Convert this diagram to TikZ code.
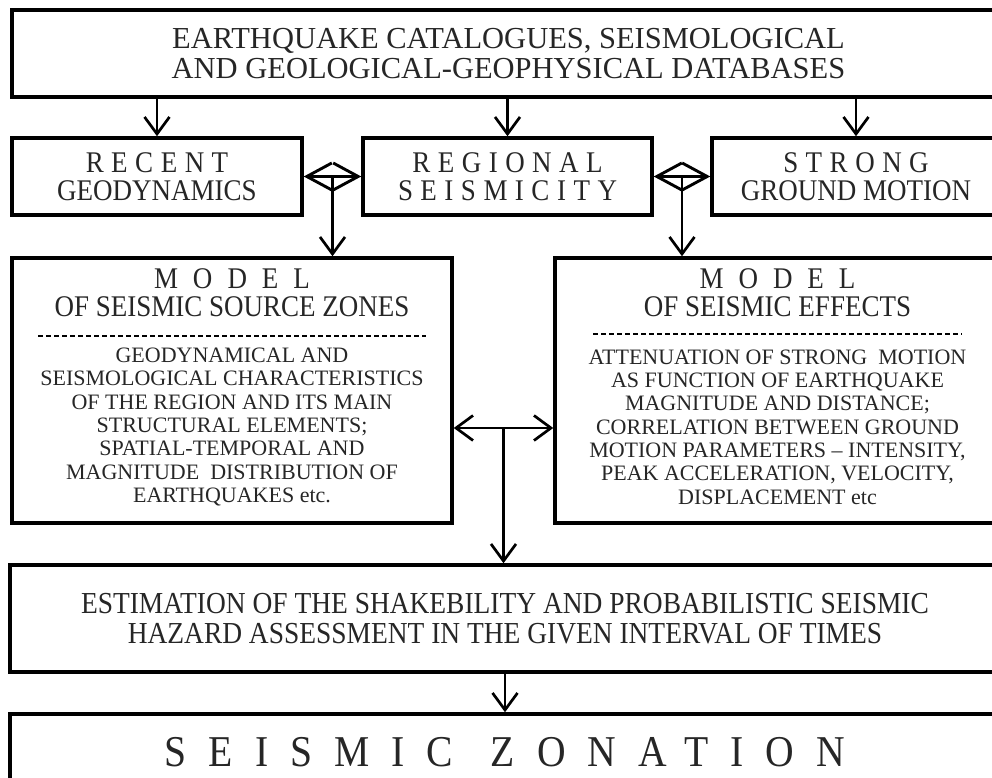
\documentclass[tikz,border=0pt]{standalone}
\usepackage{fontspec}
\setmainfont{Liberation Serif}
\newfontfamily\narrowfont{Liberation Serif}[FakeStretch=0.9]
\usetikzlibrary{positioning, arrows.meta, calc}
\newcommand{\spaced}[2]{{\addfontfeatures{LetterSpace=#1}#2}}

\begin{document}
\begin{tikzpicture}[
    x=1pt, y=1pt,
    every node/.style={text=black!85},
    box/.style={draw=black, line width=3.5pt, rectangle, inner sep=0pt, align=center},
    cattext/.style={font=\fontsize{30.5}{30}\selectfont},
    rowtext/.style={font=\narrowfont\fontsize{30}{28}\selectfont},
    titletext/.style={align=center, inner sep=0pt, font=\narrowfont\fontsize{30}{28}\selectfont},
    bodytext/.style={align=center, inner sep=0pt, font=\fontsize{22}{23.3}\selectfont},
    esttext/.style={font=\narrowfont\fontsize{30.5}{30}\selectfont},
    zontext/.style={font=\narrowfont\fontsize{44}{44}\selectfont},
    sep/.style={line width=1.6pt, dash pattern=on 5pt off 3pt},
    downarrow/.style={line width=2.7pt, -{Straight Barb[length=17pt, width=25pt]}},
    lensarrow/.style={line width=2.9pt, {Straight Barb[length=25pt, width=27pt]}-{Straight Barb[length=25pt, width=27pt]}}
]
    \useasboundingbox (0,0) rectangle (992,778);
    \clip (0,0) rectangle (992,778);

    % data sources
    \node[box, cattext, minimum width=993pt, minimum height=87pt] (cat) at (508.5,724.5)
        {EARTHQUAKE CATALOGUES, SEISMOLOGICAL\\AND GEOLOGICAL-GEOPHYSICAL DATABASES};

    \node[box, rowtext, minimum width=290pt, minimum height=77pt] (rec) at (157,601.5)
        {\spaced{25}{RECENT}\\GEODYNAMICS};
    \node[box, rowtext, minimum width=289pt, minimum height=77pt] (reg) at (507.5,601.5)
        {\spaced{25}{REGIONAL}\\\spaced{25}{SEISMICITY}};
    \node[box, rowtext, minimum width=288pt, minimum height=77pt] (str) at (856,601.5)
        {\spaced{25}{STRONG}\\GROUND MOTION};

    % models
    \node[box, minimum width=440pt, minimum height=265pt] (src) at (232,387.5) {};
    \node[titletext] (srctitle) at ([yshift=-36pt]src.north)
        {\spaced{50}{MODEL}\\OF SEISMIC SOURCE ZONES};
    \node[bodytext] (srcbody) at ([yshift=-36.5pt]src.center)
        {GEODYNAMICAL AND\\SEISMOLOGICAL CHARACTERISTICS\\OF THE REGION AND ITS MAIN\\STRUCTURAL ELEMENTS;\\SPATIAL-TEMPORAL AND\\MAGNITUDE\ \ DISTRIBUTION OF\\EARTHQUAKES etc.};
    \draw[sep] ($(src.north west)+(28pt,-80pt)$) -- ($(src.north east)+(-28pt,-80pt)$);

    \node[box, minimum width=445pt, minimum height=265pt] (eff) at (777.5,387.5) {};
    \node[titletext] (efftitle) at ([yshift=-36pt]eff.north)
        {\spaced{50}{MODEL}\\OF SEISMIC EFFECTS};
    \node[bodytext] (effbody) at ([yshift=-36.5pt]eff.center)
        {ATTENUATION OF STRONG\ \ MOTION\\AS FUNCTION OF EARTHQUAKE\\MAGNITUDE AND DISTANCE;\\CORRELATION BETWEEN GROUND\\MOTION PARAMETERS -- INTENSITY,\\PEAK ACCELERATION, VELOCITY,\\DISPLACEMENT etc};
    \draw[sep] ($(eff.north west)+(40pt,-78pt)$) -- ($(eff.north east)+(-40pt,-78pt)$);

    % results
    \node[box, esttext, minimum width=990pt, minimum height=107pt] (est) at (505,159.5)
        {ESTIMATION OF THE SHAKEBILITY AND PROBABILISTIC SEISMIC\\HAZARD ASSESSMENT IN THE GIVEN INTERVAL OF TIMES};
    \node[box, zontext, minimum width=990pt, minimum height=76pt] (zon) at (505,26)
        {\spaced{50}{SEISMIC}\hspace{38pt}\spaced{50}{ZONATION}};

    % connectors
    \foreach \b in {rec,reg,str}
        \draw[downarrow] (cat.south -| \b.north) -- (\b.north);

    \coordinate (lensA) at ($(rec.east)!0.5!(reg.west)$);
    \coordinate (lensB) at ($(reg.east)!0.5!(str.west)$);
    \draw[lensarrow] (rec.east) -- (reg.west);
    \draw[lensarrow] (reg.east) -- (str.west);
    \draw[downarrow] (lensA) -- (lensA |- src.north);
    \draw[downarrow] (lensB) -- (lensB |- eff.north);

    \coordinate (mid) at (503.5,350);
    \draw[downarrow] (mid) -- (mid -| src.east);
    \draw[downarrow] (mid) -- (mid -| eff.west);
    \draw[downarrow] (mid) -- (mid |- est.north);

    \draw[downarrow] (est.south) -- (zon.north);
\end{tikzpicture}
\end{document}
